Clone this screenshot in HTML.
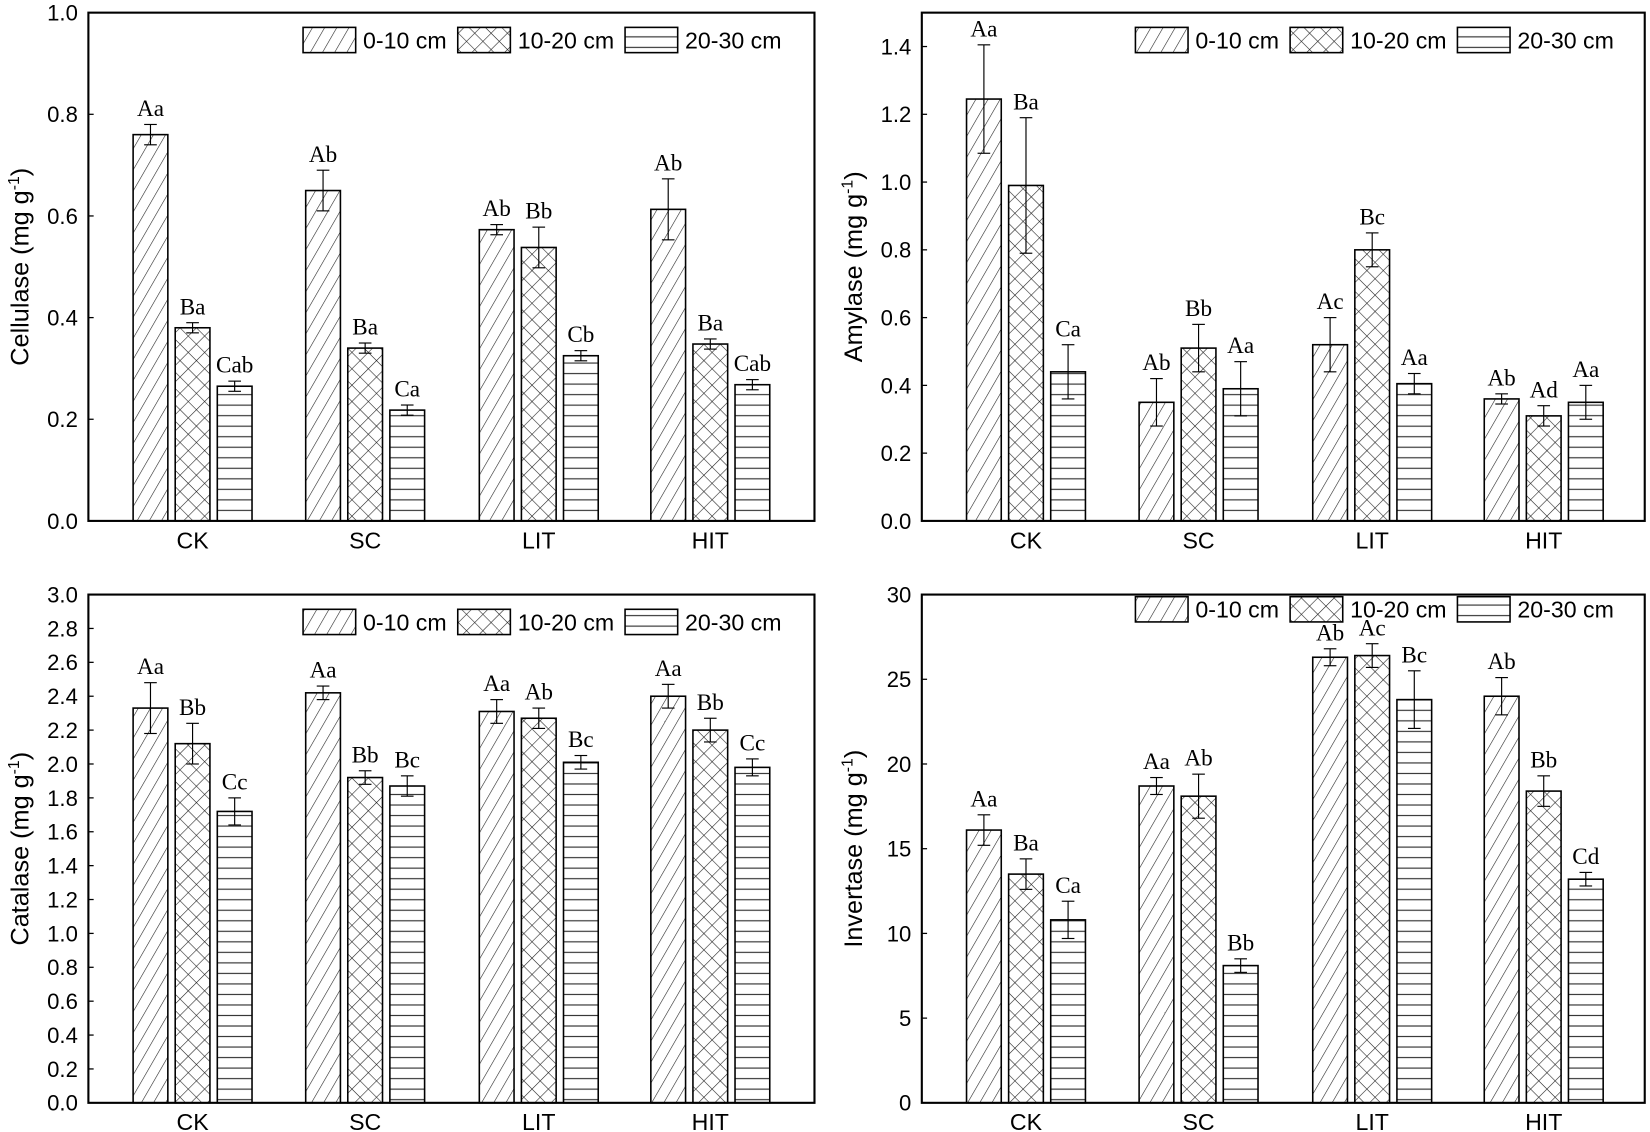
<!DOCTYPE html>
<html><head><meta charset="utf-8"><style>
html,body{margin:0;padding:0;background:#fff;}
svg{display:block;}
.t{font-family:"Liberation Sans",Arial,sans-serif;fill:#000;}
.s{font-family:"Liberation Serif","Times New Roman",serif;fill:#000;}
</style></head><body>
<svg id="c" width="1650" height="1132" viewBox="0 0 1568 1075.7" xmlns="http://www.w3.org/2000/svg">
<defs>
<pattern id="p0" patternUnits="userSpaceOnUse" width="10" height="10" patternTransform="rotate(30)">
<rect width="10" height="10" fill="#fff"/><line x1="0" y1="0" x2="0" y2="10" stroke="#222" stroke-width="1.1"/></pattern>
<pattern id="p1" patternUnits="userSpaceOnUse" width="11" height="11" patternTransform="rotate(45)">
<rect width="11" height="11" fill="#fff"/><line x1="0" y1="0" x2="0" y2="11" stroke="#222" stroke-width="1.1"/><line x1="0" y1="0" x2="11" y2="0" stroke="#222" stroke-width="1.1"/></pattern>
<pattern id="p2" patternUnits="userSpaceOnUse" width="10" height="10">
<rect width="10" height="10" fill="#fff"/><line x1="0" y1="5" x2="10" y2="5" stroke="#333" stroke-width="1.1"/></pattern>
</defs>
</svg>
<script>
const svg=document.getElementById('c');const NS='http://www.w3.org/2000/svg';
function el(n,a,txt){const e=document.createElementNS(NS,n);for(const k in a)e.setAttribute(k,a[k]);if(txt!==undefined)e.textContent=txt;svg.appendChild(e);return e;}
const panels=[
{x0:84,x1:774,y0:12,y1:495,max:1.0,step:0.2,dec:1,title:'Cellulase',leg:[288,435,594],ly:26,
d:[[[.76,.02,'Aa'],[.38,.01,'Ba'],[.265,.01,'Cab']],[[.65,.04,'Ab'],[.34,.01,'Ba'],[.218,.01,'Ca']],[[.573,.01,'Ab'],[.538,.04,'Bb'],[.325,.01,'Cb']],[[.613,.06,'Ab'],[.348,.01,'Ba'],[.268,.01,'Cab']]]},
{x0:876,x1:1563,y0:12,y1:495,max:1.5,step:0.2,tmax:1.4,dec:1,title:'Amylase',leg:[1079,1226,1385],ly:26,
d:[[[1.245,.16,'Aa'],[.99,.2,'Ba'],[.44,.08,'Ca']],[[.35,.07,'Ab'],[.51,.07,'Bb'],[.39,.08,'Aa']],[[.52,.08,'Ac'],[.80,.05,'Bc'],[.405,.03,'Aa']],[[.36,.015,'Ab'],[.31,.03,'Ad'],[.35,.05,'Aa']]]},
{x0:84,x1:774,y0:565,y1:1048,max:3.0,step:0.2,dec:1,title:'Catalase',leg:[288,435,594],ly:579,
d:[[[2.33,.15,'Aa'],[2.12,.12,'Bb'],[1.72,.08,'Cc']],[[2.42,.04,'Aa'],[1.92,.04,'Bb'],[1.87,.06,'Bc']],[[2.31,.07,'Aa'],[2.27,.06,'Ab'],[2.01,.04,'Bc']],[[2.40,.07,'Aa'],[2.20,.07,'Bb'],[1.98,.05,'Cc']]]},
{x0:876,x1:1563,y0:565,y1:1048,max:30,step:5,dec:0,title:'Invertase',leg:[1079,1226,1385],ly:567,
d:[[[16.1,.9,'Aa'],[13.5,.9,'Ba'],[10.8,1.1,'Ca']],[[18.7,.5,'Aa'],[18.1,1.3,'Ab'],[8.1,.4,'Bb']],[[26.3,.5,'Ab'],[26.4,.7,'Ac'],[23.8,1.7,'Bc']],[[24.0,1.1,'Ab'],[18.4,.9,'Bb'],[13.2,.4,'Cd']]]}
];
const groups=['CK','SC','LIT','HIT'];const offs=[99,263,428,591];
panels.forEach(p=>{
 const Y=v=>p.y1-(v/p.max)*(p.y1-p.y0);
 const tmax=p.tmax||p.max;
 for(let v=0;v<=tmax+1e-9;v+=p.step){const y=Y(v);
  el('line',{x1:p.x0,y1:y,x2:p.x0+5,y2:y,stroke:'#000','stroke-width':1.2});
  el('text',{x:p.x0-10,y:y+7.5,'text-anchor':'end','font-size':21,class:'t'},v.toFixed(p.dec));}
 const cy=(p.y0+p.y1)/2;const tx=p.x0<500?27:819;
 const tt=el('text',{x:tx,y:cy,'text-anchor':'middle','font-size':24,class:'t',transform:`rotate(-90 ${tx} ${cy})`});
 tt.innerHTML=p.title+' (mg g<tspan dy="-9" font-size="15">-1</tspan><tspan dy="9">)</tspan>';
 p.d.forEach((g,gi)=>{const c=p.x0+offs[gi];
  el('text',{x:c,y:p.y1+26,'text-anchor':'middle','font-size':22,class:'t'},groups[gi]);
  g.forEach((b,bi)=>{const bx=c+(bi-1)*40-16.5;const y=Y(b[0]);
   el('rect',{x:bx,y:y,width:33,height:p.y1-y,fill:`url(#p${bi})`,stroke:'#000','stroke-width':1.5});
   const e1=Y(b[0]+b[1]),e2=Y(b[0]-b[1]),m=bx+16.5;
   el('line',{x1:m,y1:e1,x2:m,y2:e2,stroke:'#000','stroke-width':1.1});
   el('line',{x1:m-6,y1:e1,x2:m+6,y2:e1,stroke:'#000','stroke-width':1.1});
   el('line',{x1:m-6,y1:e2,x2:m+6,y2:e2,stroke:'#000','stroke-width':1.1});
   el('text',{x:m,y:e1-8,'text-anchor':'middle','font-size':22,class:'s'},b[2]);
  });});
 const labs=['0-10 cm','10-20 cm','20-30 cm'];
 p.leg.forEach((lx,i)=>{el('rect',{x:lx,y:p.ly,width:50,height:24,fill:`url(#p${i})`,stroke:'#000','stroke-width':1.5});
  el('text',{x:lx+57,y:p.ly+20,'font-size':22,class:'t'},labs[i]);});
 el('rect',{x:p.x0,y:p.y0,width:p.x1-p.x0,height:p.y1-p.y0,fill:'none',stroke:'#000','stroke-width':2});
});
</script>
</body></html>
